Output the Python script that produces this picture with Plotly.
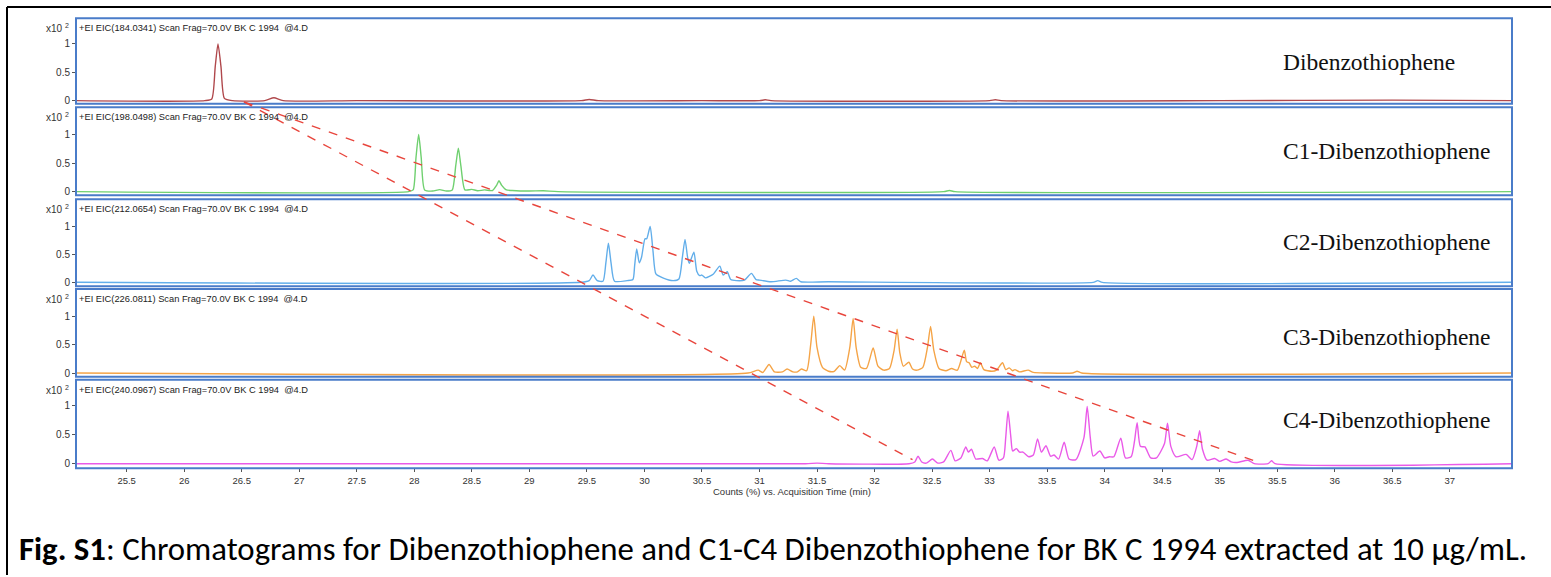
import plotly.graph_objects as go

# ---------------- data ----------------
compounds = ["Dibenzothiophene", "C1-Dibenzothiophene", "C2-Dibenzothiophene",
             "C3-Dibenzothiophene", "C4-Dibenzothiophene"]
eic_masses = ["184.0341", "198.0498", "212.0654", "226.0811", "240.0967"]

dbt_t = [25.05, 26.18, 26.24, 26.27, 26.294, 26.32, 26.35, 26.42, 26.70, 26.78, 26.86, 27.5,
         29.45, 29.52, 29.60, 30.5, 31.0, 31.05, 31.1, 33.0, 33.05, 33.1, 35.0, 36.5, 37.54]
dbt_y = [0, 0, 0.03, 0.6, 1.0, 0.6, 0.04, 0, 0, 0.05, 0, 0,
         0, 0.02, 0, 0, 0, 0.015, 0, 0, 0.015, 0, 0, 0.01, 0]

c1_t = [25.05, 27.95, 27.99, 28.015, 28.038, 28.06, 28.09, 28.16, 28.22, 28.28, 28.33, 28.36,
        28.383, 28.405, 28.44, 28.5, 28.55, 28.61, 28.68, 28.715, 28.736, 28.76, 28.8, 28.85,
        29.0, 29.12, 29.25, 32.6, 32.65, 32.7, 37.54]
c1_y = [0, 0, 0.03, 0.6, 1.0, 0.6, 0.03, 0.01, 0.035, 0.01, 0.03, 0.45,
        0.76, 0.45, 0.03, 0.04, 0.015, 0.03, 0.02, 0.11, 0.19, 0.11, 0.03, 0.02,
        0.01, 0.015, 0, 0, 0.02, 0, 0]

c2_t = [25.05, 29.45, 29.52, 29.553, 29.59, 29.64, 29.665, 29.687, 29.71, 29.74, 29.85, 29.9,
        29.915, 29.933, 29.955, 29.975, 30.005, 30.02, 30.05, 30.075, 30.1, 30.16, 30.25, 30.3,
        30.33, 30.353, 30.375, 30.39, 30.43, 30.455, 30.48, 30.5, 30.53, 30.6, 30.655, 30.685,
        30.72, 30.75, 30.8, 30.87, 30.93, 30.97, 31.0, 31.1, 31.23, 31.27, 31.32, 31.36, 31.6,
        33.9, 33.94, 33.98, 37.54]
c2_y = [0, 0, 0.03, 0.13, 0.03, 0.02, 0.35, 0.70, 0.35, 0.02, 0.03, 0.05,
        0.3, 0.60, 0.35, 0.45, 0.78, 0.78, 1.0, 0.55, 0.15, 0.08, 0.03, 0.06,
        0.45, 0.77, 0.45, 0.34, 0.54, 0.2, 0.12, 0.13, 0.08, 0.15, 0.29, 0.13,
        0.19, 0.05, 0.03, 0.04, 0.16, 0.05, 0.04, 0.01, 0.04, 0.02, 0.07, 0.01, 0.01,
        0, 0.03, 0, 0]

c3_t = [25.05, 30.9, 30.988, 31.03, 31.083, 31.13, 31.2, 31.24, 31.29, 31.33, 31.365, 31.41,
        31.445, 31.472, 31.5, 31.547, 31.6, 31.65, 31.698, 31.74, 31.785, 31.814, 31.84, 31.88,
        31.93, 31.988, 32.03, 32.08, 32.13, 32.17, 32.196, 32.22, 32.25, 32.298, 32.33, 32.37,
        32.42, 32.46, 32.487, 32.515, 32.56, 32.62, 32.67, 32.72, 32.78, 32.80, 32.822, 32.845,
        32.87, 32.895, 32.92, 32.95, 33.02, 33.06, 33.112, 33.14, 33.17, 33.2, 33.22, 33.26,
        33.335, 33.38, 33.5, 33.72, 33.76, 33.8, 37.54]
c3_y = [0, 0, 0.05, 0.01, 0.15, 0.02, 0.02, 0.07, 0.02, 0.02, 0.07, 0.04,
        0.5, 1.0, 0.45, 0.1, 0.03, 0.03, 0.13, 0.05, 0.45, 0.96, 0.45, 0.1,
        0.08, 0.44, 0.12, 0.05, 0.08, 0.4, 0.77, 0.35, 0.12, 0.19, 0.07, 0.05,
        0.1, 0.45, 0.82, 0.4, 0.08, 0.04, 0.08, 0.05, 0.40, 0.2, 0.18, 0.1,
        0.12, 0.08, 0.18, 0.06, 0.03, 0.05, 0.18, 0.06, 0.09, 0.04, 0.06, 0.02,
        0.05, 0.01, 0, 0, 0.03, 0, 0]

c4_t = [25.05, 31.4, 31.5, 31.6, 32.3, 32.35, 32.378, 32.41, 32.45, 32.503, 32.55, 32.6,
        32.663, 32.7, 32.75, 32.793, 32.815, 32.842, 32.88, 32.938, 32.98, 33.04, 33.08, 33.12,
        33.14, 33.16, 33.185, 33.2, 33.233, 33.26, 33.29, 33.34, 33.38, 33.417, 33.45, 33.49,
        33.53, 33.56, 33.6, 33.648, 33.69, 33.75, 33.82, 33.848, 33.875, 33.9, 33.958, 34.0,
        34.04, 34.08, 34.14, 34.18, 34.23, 34.26, 34.282, 34.31, 34.35, 34.4, 34.45, 34.52,
        34.546, 34.575, 34.62, 34.708, 34.76, 34.8, 34.825, 34.85, 34.89, 34.955, 35.0, 35.056,
        35.1, 35.15, 35.247, 35.3, 35.42, 35.45, 35.48, 37.54]
c4_y = [0, 0, 0.01, 0, 0, 0.03, 0.13, 0.03, 0.01, 0.08, 0.01, 0.03,
        0.23, 0.05, 0.1, 0.29, 0.2, 0.25, 0.08, 0.09, 0.05, 0.29, 0.06, 0.1,
        0.45, 0.91, 0.45, 0.22, 0.26, 0.2, 0.2, 0.12, 0.15, 0.43, 0.2, 0.31,
        0.13, 0.15, 0.08, 0.37, 0.08, 0.07, 0.45, 0.99, 0.45, 0.13, 0.22, 0.1,
        0.12, 0.12, 0.44, 0.1, 0.12, 0.4, 0.71, 0.3, 0.29, 0.1, 0.1, 0.35,
        0.70, 0.3, 0.12, 0.16, 0.07, 0.3, 0.57, 0.25, 0.06, 0.09, 0.04, 0.08,
        0.03, 0.02, 0.06, 0.0, 0, 0.05, 0, 0]

series_t = [dbt_t, c1_t, c2_t, c3_t, c4_t]
series_y = [dbt_y, c1_y, c2_y, c3_y, c4_y]

x_ticks = [25.5 + 0.5 * i for i in range(24)]
y_ticks = [0, 0.5, 1]

# dashed guide lines: start (time, panel-1 value) -> end (time, panel-5 value)
guide_start_t, guide_start_v = 26.52, -0.02
guide_end_t = [35.30, 32.33]
guide_end_v = [0.05, 0.07]

# ---------------- layout geometry (pixels) ----------------
W, H = 1551, 577
X_LEFT, X_RIGHT = 76, 1512
panel_top = [18.3, 107.5, 200.0, 290.0, 381.0]
panel_bot = [104.0, 196.0, 287.3, 378.0, 470.0]
zero_px = [101.0, 192.3, 283.3, 374.3, 465.3]
one_px = [44.0, 135.0, 227.3, 317.3, 407.3]
label_y = [62, 152, 243, 338, 421]
colors = ["#b0484c", "#6fd06f", "#62aeea", "#f5a447", "#ea5ae8"]


def pxx(x):
    return x / W


def pxy(y):
    return 1 - y / H


fig = go.Figure()
shapes = []
annotations = []
layout_axes = {}

for i in range(5):
    yname = "yaxis" if i == 0 else f"yaxis{i + 1}"
    yref = "y" if i == 0 else f"y{i + 1}"
    unit = zero_px[i] - one_px[i]
    rng = [(zero_px[i] - panel_bot[i]) / unit, (zero_px[i] - panel_top[i]) / unit]
    layout_axes[yname] = dict(
        domain=[pxy(panel_bot[i]), pxy(panel_top[i])], range=rng, anchor="x",
        tickvals=y_ticks, ticktext=["0", "0.5", "1"], ticks="outside", ticklen=3,
        tickcolor="#555", tickfont=dict(family="Liberation Sans", size=10, color="#333"),
        showgrid=False, zeroline=False, showline=False, fixedrange=True)
    fig.add_trace(go.Scatter(
        x=series_t[i], y=series_y[i], mode="lines", xaxis="x", yaxis=yref,
        line=dict(color=colors[i], width=1.4, shape="spline", smoothing=0.6),
        showlegend=False, hoverinfo="skip"))
    # panel border
    shapes.append(dict(type="rect", xref="paper", yref="paper",
                       x0=pxx(X_LEFT), x1=pxx(X_RIGHT), y0=pxy(panel_bot[i]), y1=pxy(panel_top[i]),
                       line=dict(color="#4a7cc9", width=2)))
    # header texts
    annotations.append(dict(xref="paper", yref="paper", x=pxx(71), y=pxy(panel_top[i] + 10),
                            xanchor="right", yanchor="middle", showarrow=False,
                            text="x10 <sup>2</sup>",
                            font=dict(family="Liberation Sans", size=10, color="#333")))
    annotations.append(dict(xref="paper", yref="paper", x=pxx(77), y=pxy(panel_top[i] + 10),
                            xanchor="left", yanchor="middle", showarrow=False,
                            text=f"+EI EIC({eic_masses[i]}) Scan Frag=70.0V BK C 1994  @4.D",
                            font=dict(family="Liberation Sans", size=9.3, color="#222")))
    annotations.append(dict(xref="paper", yref="paper", x=pxx(1281), y=pxy(label_y[i]),
                            xanchor="left", yanchor="middle", showarrow=False,
                            text=compounds[i],
                            font=dict(family="Liberation Serif", size=23.5, color="#111")))


def val_to_paper(panel, v):
    unit = zero_px[panel] - one_px[panel]
    return pxy(zero_px[panel] - v * unit)


for te, ve in zip(guide_end_t, guide_end_v):
    shapes.append(dict(type="line", xref="x", yref="paper",
                       x0=guide_start_t, y0=val_to_paper(0, guide_start_v),
                       x1=te, y1=val_to_paper(4, ve),
                       line=dict(color="#e8453c", width=1.4, dash="dash")))

# outer frame (top and left edges)
shapes.append(dict(type="line", xref="paper", yref="paper", x0=pxx(7), x1=1, y0=pxy(7), y1=pxy(7),
                   line=dict(color="black", width=2)))
shapes.append(dict(type="line", xref="paper", yref="paper", x0=pxx(7), x1=pxx(7), y0=0, y1=pxy(7),
                   line=dict(color="black", width=2)))

# x-axis title and caption
annotations.append(dict(xref="paper", yref="paper", x=pxx(792), y=pxy(493), xanchor="center",
                        yanchor="middle", showarrow=False,
                        text="Counts (%) vs. Acquisition Time (min)",
                        font=dict(family="Liberation Sans Narrow, Liberation Sans", size=9.5, color="#333")))
annotations.append(dict(xref="paper", yref="paper", x=pxx(17), y=pxy(551), xanchor="left",
                        yanchor="middle", showarrow=False,
                        text="<b>Fig. S1</b>: Chromatograms for Dibenzothiophene and C1-C4 Dibenzothiophene "
                             "for BK C 1994 extracted at 10 \u00b5g/mL.",
                        font=dict(family="Carlito, Open Sans", size=32.8, color="black")))

fig.update_layout(
    width=W, height=H, margin=dict(l=0, r=0, t=0, b=0),
    paper_bgcolor="white", plot_bgcolor="white",
    xaxis=dict(domain=[pxx(X_LEFT), pxx(X_RIGHT)], range=[25.06, 37.54], anchor="y5",
               tickvals=x_ticks, ticktext=[f"{v:g}" for v in x_ticks],
               ticks="outside", ticklen=3, tickcolor="#555",
               tickfont=dict(family="Liberation Sans Narrow, Liberation Sans", size=9.5, color="#333"),
               showgrid=False, zeroline=False, showline=False, fixedrange=True),
    shapes=shapes, annotations=annotations, showlegend=False,
    **layout_axes)

fig.write_html("out.html")
